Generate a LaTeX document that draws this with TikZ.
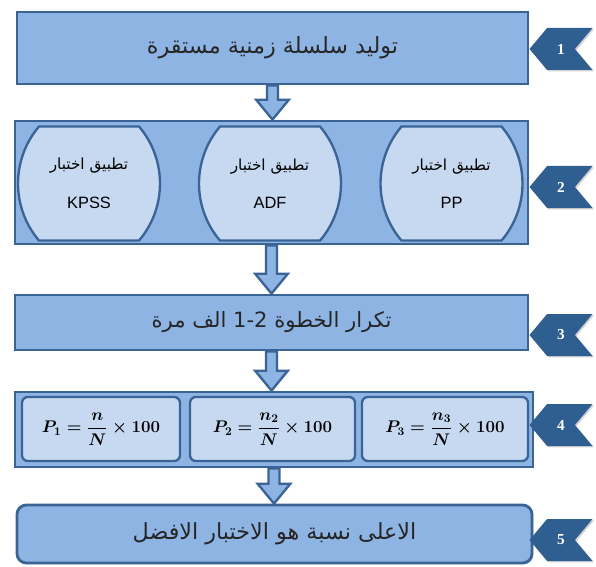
\documentclass[tikz,border=0pt]{standalone}
\usepackage{amsmath,bm}
\usepackage[no-math]{fontspec}
\setmainfont{Liberation Sans}
\newfontfamily\arabicfont[Script=Arabic]{DejaVu Sans}
\newfontfamily\latinfont{DejaVu Sans}
\newfontfamily\numfont{Liberation Serif}
\TeXXeTstate=1
\usetikzlibrary{shapes.symbols,shadows,calc}

\definecolor{boxfill}{HTML}{8EB4E3}
\definecolor{boxline}{HTML}{3A6496}
\definecolor{capfill}{HTML}{C6D9F1}
\definecolor{tagfill}{HTML}{2F5E90}

% block arrow from the bottom of one step to the top of the next
\newcommand\flowarrow[2]{%
  \draw[flowline] let \p1=(#1.south), \p2=(#2.north) in
    (\x1-4.7pt,\y1) -- (\x1-4.7pt,\y2+17pt) -- (\x1-14pt,\y2+17pt) -- (\x1,\y2)
    -- (\x1+14pt,\y2+17pt) -- (\x1+4.7pt,\y2+17pt) -- (\x1+4.7pt,\y1) -- cycle;}
% barrel shaped test box, then its text node
\newcommand\testnode[3]{%
  \draw[capline] ([shift={(-50,-57)}]#2) -- ++(100,0)
    arc[start angle=40.4, end angle=-40.4, radius=2.64cm] -- ++(-100,0)
    arc[start angle=220.4, end angle=139.6, radius=2.64cm] -- cycle;
  \node[captext] (#1) at (#2) {#3};}

\begin{document}
\begin{tikzpicture}[x=0.03cm, y=-0.03cm,
  stepbox/.style={draw=boxline, line width=2.4pt, fill=boxfill, inner sep=0pt,
    drop shadow={opacity=0.3, shadow xshift=1.2pt, shadow yshift=-1.2pt}},
  capline/.style={draw=boxline, line width=2pt, fill=capfill},
  captext/.style={align=center, inner sep=0pt, minimum width=3cm},
  formbox/.style={rounded corners=5pt, draw=boxline, line width=2pt, fill=capfill,
    minimum height=1.92cm, inner sep=0pt, font=\fontsize{14}{16}\selectfont\boldmath},
  tagmark/.style={signal, signal to=west, signal from=east, signal pointer angle=100,
    fill=tagfill, text=white, font=\numfont\bfseries\fontsize{13}{15}\selectfont,
    minimum width=1.89cm, minimum height=1.26cm, inner sep=0pt,
    drop shadow={opacity=0.35, shadow xshift=1.2pt, shadow yshift=-1.2pt}},
  flowline/.style={draw=boxline, line width=2pt, fill=boxfill, line join=miter},
  ar/.style={font=\arabicfont\fontsize{19}{22}\selectfont, text=black!85}]
  \useasboundingbox (0,0) rectangle (596,566);

  \node[stepbox, minimum width=15.33cm, minimum height=2.16cm, ar] (gen) at (272.5,48)
    {\beginR توليد سلسلة زمنية مستقرة\endR};

  \node[stepbox, minimum width=15.39cm, minimum height=3.69cm] (tests) at (271.5,182.5) {};
  \testnode{kpss}{89,183.5}
    {{\arabicfont\fontsize{13}{15}\selectfont\beginR تطبيق اختبار\endR}\\[19pt]{\fontsize{14}{16}\selectfont KPSS}}
  \testnode{adf}{270,183.5}
    {{\arabicfont\fontsize{13}{15}\selectfont\beginR تطبيق اختبار\endR}\\[19pt]{\fontsize{14}{16}\selectfont ADF}}
  \testnode{pp}{451.5,183.5}
    {{\arabicfont\fontsize{13}{15}\selectfont\beginR تطبيق اختبار\endR}\\[19pt]{\fontsize{14}{16}\selectfont PP}}

  \node[stepbox, minimum width=15.39cm, minimum height=1.65cm, ar, font=\arabicfont\fontsize{18}{21}\selectfont] (again) at (271.5,322.5)
    {\beginR تكرار الخطوة \mbox{\latinfont 1-2} الف مرة\endR};

  \node[stepbox, minimum width=15.54cm, minimum height=2.25cm] (ratios) at (274,429.5) {};
  \node[formbox, minimum width=4.74cm] (pone) at (101,429) {$P_1=\dfrac{n}{N}\times 100$};
  \node[formbox, minimum width=4.95cm] (ptwo) at (272.5,429) {$P_2=\dfrac{n_2}{N}\times 100$};
  \node[formbox, minimum width=4.98cm] (pthree) at (445,429) {$P_3=\dfrac{n_3}{N}\times 100$};

  \node[stepbox, rounded corners=8pt, minimum width=15.45cm, minimum height=1.74cm, ar] (best) at (274.5,534)
    {\beginR الاعلى نسبة هو الاختبار الافضل\endR};

  \flowarrow{gen}{tests}
  \flowarrow{tests}{again}
  \flowarrow{again}{ratios}
  \flowarrow{ratios}{best}

  \node[tagmark] (t1) at (561,49) {1};
  \node[tagmark] (t2) at (561,187) {2};
  \node[tagmark] (t3) at (561,335) {3};
  \node[tagmark] (t4) at (561,425) {4};
  \node[tagmark] (t5) at (561,540) {5};
\end{tikzpicture}
\end{document}
